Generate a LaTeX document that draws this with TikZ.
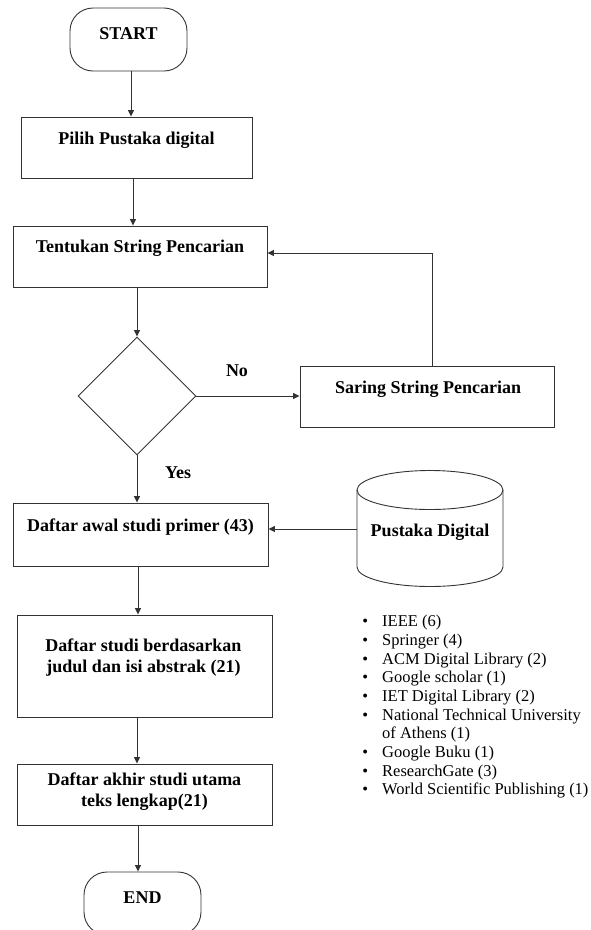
\documentclass[tikz,border=0pt]{standalone}
\usepackage{fontspec}
\setmainfont{Liberation Serif}
\usetikzlibrary{arrows.meta,shapes.geometric}
\begin{document}
\begin{tikzpicture}[x=1pt,y=-1pt,
  ln/.style={draw=black!80, line width=0.9pt},
  arr/.style={ln, -{Triangle[length=6.5pt,width=6pt]}},
  boxnode/.style={ln, rectangle, inner sep=0pt},
  termnode/.style={ln, rectangle, rounded corners=23pt, inner sep=0pt, minimum width=117pt, minimum height=63pt},
  txt/.style={inner sep=0pt, font=\fontsize{18}{21}\selectfont\bfseries, align=center},
  lst/.style={inner sep=0pt, font=\fontsize{16.5}{18.7}\selectfont, align=left}
]
\clip (0,0) rectangle (590,930);
\fill[white] (0,0) rectangle (590,930);

% terminals
\node[termnode] (start) at (128.5,39.5) {};
\node[txt] (startT) at (128.5,34) {START};
\node[termnode] (end) at (142.5,903.5) {};
\node[txt] (endT) at (142.5,898) {END};

% boxes
\node[boxnode, minimum width=231pt, minimum height=61pt] (pilih) at (136.5,147.5) {};
\node[txt] (pilihT) at (136.5,140) {Pilih Pustaka digital};

\node[boxnode, minimum width=254pt, minimum height=61pt] (tent) at (140,256.5) {};
\node[txt] (tentT) at (140,248) {Tentukan String Pencarian};

\node[diamond, ln, aspect=1, minimum width=118pt, minimum height=118pt, inner sep=0pt] (dec) at (137,396) {};

\node[boxnode, minimum width=254pt, minimum height=61pt] (sar) at (427,396.5) {};
\node[txt] (sarT) at (428,389) {Saring String Pencarian};

\node[boxnode, minimum width=255pt, minimum height=63pt] (awal) at (140.5,534.5) {};
\node[txt] (awalT) at (140.5,527) {Daftar awal studi primer (43)};

\node[boxnode, minimum width=255pt, minimum height=102pt] (studi) at (144.5,666) {};
\node[txt] (studiT) at (143.5,657.5) {Daftar studi berdasarkan\\judul dan isi abstrak (21)};

\node[boxnode, minimum width=255pt, minimum height=61pt] (akhir) at (144.5,794.5) {};
\node[txt] (akhirT) at (144.5,792) {Daftar akhir studi utama\\teks lengkap(21)};

% cylinder
\coordinate (cylC) at (430,490);
\draw[ln] (430,490) ellipse [x radius=73pt, y radius=19.5pt];
\draw[ln] (357,490) -- (357,567) arc[start angle=180, end angle=360, x radius=73pt, y radius=19.5pt] -- (503,490);
\node[txt] (pd) at (430,532) {Pustaka Digital};

% labels
\node[txt] (no) at (237,371) {No};
\node[txt] (yes) at (178,473) {Yes};

% list
\node[lst, anchor=north west] (list) at (382,615) {%
\llap{\textbullet\hspace{14pt}}IEEE (6)\\
\llap{\textbullet\hspace{14pt}}Springer (4)\\
\llap{\textbullet\hspace{14pt}}ACM Digital Library (2)\\
\llap{\textbullet\hspace{14pt}}Google scholar (1)\\
\llap{\textbullet\hspace{14pt}}IET Digital Library (2)\\
\llap{\textbullet\hspace{14pt}}National Technical University\\
of Athens (1)\\
\llap{\textbullet\hspace{14pt}}Google Buku (1)\\
\llap{\textbullet\hspace{14pt}}ResearchGate (3)\\
\llap{\textbullet\hspace{14pt}}World Scientific Publishing (1)};

% connector x positions
\coordinate (x1) at (131,0);
\coordinate (x2) at (133,0);
\coordinate (x3) at (137,0);
\coordinate (x4) at (138,0);
\coordinate (fb) at (432,253);
\coordinate (cylL) at (357,529);

\draw[arr] (start.south -| x1) -- (pilih.north -| x1);
\draw[arr] (pilih.south -| x2) -- (tent.north -| x2);
\draw[arr] (tent.south -| x3) -- (dec.north);
\draw[arr] (dec.east) -- (sar.west |- dec.east);
\draw[arr] (sar.north -| fb) |- (tent.east |- fb);
\draw[arr] (dec.south) -- (awal.north -| x3);
\draw[arr] (cylL) -- (awal.east |- cylL);
\draw[arr] (awal.south -| x4) -- (studi.north -| x4);
\draw[arr] (studi.south -| x3) -- (akhir.north -| x3);
\draw[arr] (akhir.south -| x4) -- (end.north -| x4);
\end{tikzpicture}
\end{document}
